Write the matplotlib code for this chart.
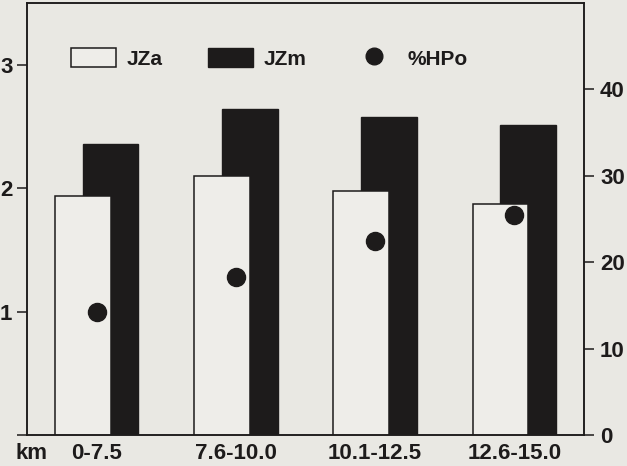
import matplotlib
matplotlib.use("Agg")
import matplotlib.pyplot as plt
from matplotlib.patches import Patch
from matplotlib.lines import Line2D
import numpy as np

categories = ['0-7.5', '7.6-10.0', '10.1-12.5', '12.6-15.0']
jza = [1.94, 2.10, 1.98, 1.87]
jzm = [2.36, 2.64, 2.58, 2.51]
hpo = [14.2, 18.3, 22.4, 25.5]
left_ticks = [0, 1, 2, 3]
left_ticklabels = ['', '1', '2', '3']
right_ticks = [0, 10, 20, 30, 40]

BG = '#e9e8e3'
BARW = '#eeede9'
INK = '#1d1b1b'

plt.rcParams['font.family'] = ['Liberation Sans', 'DejaVu Sans']
plt.rcParams['font.weight'] = 'bold'

fig = plt.figure(figsize=(6.27, 4.66), dpi=100, facecolor=BG)
ax = fig.add_axes([27/627, 31/466, 557/627, 432/466])
ax.set_facecolor(BG)

x = np.arange(len(categories))
w = 0.40
off = 0.10
ax.bar(x + off, jzm, width=w, color=INK, edgecolor=INK, linewidth=1.0, zorder=2)
ax.bar(x - off, jza, width=w, color=BARW, edgecolor=INK, linewidth=1.1, zorder=3)

ax.set_xlim(-0.5, 3.5)
ax.set_ylim(0, 3.5)
ax.set_yticks(left_ticks)
ax.set_yticklabels(left_ticklabels)
ax.set_xticks(list(x) + [-0.47])
ax.set_xticklabels(categories + ['km'])
ax.tick_params(axis='x', length=0, pad=5.5, labelsize=16, colors=INK)
ax.tick_params(axis='y', length=7, width=1.1, pad=3.5, labelsize=16, colors=INK)
for s in ax.spines.values():
    s.set_linewidth(1.1)
    s.set_color(INK)

ax2 = ax.twinx()
ax2.set_ylim(0, 50)
ax2.set_yticks(right_ticks)
ax2.tick_params(axis='y', length=7, width=1.1, pad=4.5, labelsize=16, colors=INK)
for s in ax2.spines.values():
    s.set_linewidth(1.1)
    s.set_color(INK)
ax2.plot(x, hpo, linestyle='none', marker='o', markersize=13,
         color=INK, zorder=5)

handles = [
    Patch(facecolor=BARW, edgecolor=INK, linewidth=1.1),
    Patch(facecolor=INK, edgecolor=INK),
    Line2D([], [], linestyle='none', marker='o', markersize=12, color=INK),
]
leg = ax.legend(handles, ['JZa', 'JZm', '%HPo'], ncol=3, frameon=False,
                loc='center left', bbox_to_anchor=(0.079, 0.872),
                borderaxespad=0, borderpad=0,
                handlelength=2.16, handleheight=1.06, handletextpad=0.53,
                columnspacing=2.15, prop={'size': 15, 'weight': 'bold'})
for t in leg.get_texts():
    t.set_color(INK)

fig.savefig('out.png', dpi=100, facecolor=BG)
